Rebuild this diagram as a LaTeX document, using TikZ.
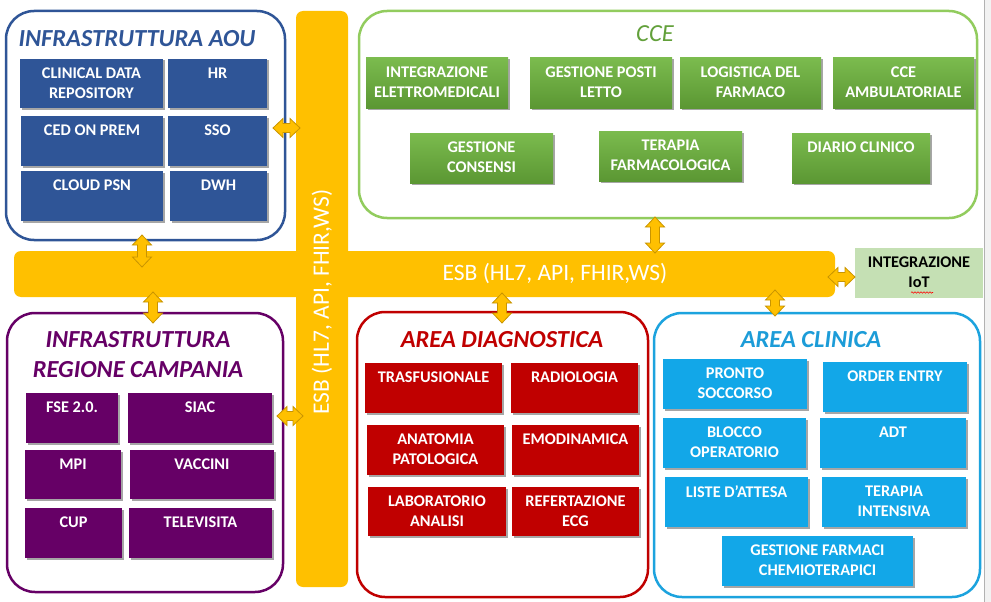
\documentclass[tikz,border=0pt]{standalone}
\usepackage{fontspec}
\setmainfont{Carlito}
\usetikzlibrary{calc,fit,shadows,decorations.pathmorphing}
\definecolor{gold}{HTML}{FFC000}
\definecolor{goldd}{HTML}{C89400}
\definecolor{aoublue}{HTML}{2F5597}
\definecolor{ccetitle}{HTML}{62A03A}
\definecolor{cceborder}{HTML}{92CC5E}
\definecolor{ccetop}{HTML}{7BBB4E}
\definecolor{ccebot}{HTML}{5B9733}
\definecolor{purp}{HTML}{660066}
\definecolor{dred}{HTML}{C00000}
\definecolor{cyanborder}{HTML}{1CA3DE}
\definecolor{cyanbox}{HTML}{12A7E8}
\definecolor{cyantitle}{HTML}{1C9CD8}
\definecolor{iotg}{HTML}{C5E0B4}

\tikzset{
  panel/.style={draw, line width=2.5pt, rounded corners=28pt, fill=white, inner sep=0pt},
  bx/.style={inner sep=0pt, drop shadow={shadow xshift=1.5pt, shadow yshift=-1.5pt, opacity=.35, fill=black}},
  btxt/.style={font=\bfseries\fontsize{16.3}{20}\selectfont, text=white, align=center, inner sep=0pt, anchor=north},
  ptitle/.style={font=\bfseries\itshape\fontsize{24.5}{30}\selectfont, align=center, inner sep=0pt},
  bus/.style={fill=gold, rounded corners=7pt, inner sep=0pt},
  esbtxt/.style={font=\fontsize{23.5}{28}\selectfont, text=white, inner sep=0pt},
  dblarr/.style={fill=gold, draw=goldd, line width=0.8pt, line join=miter},
  greenbox/.style={top color=ccetop, bottom color=ccebot}
}

\newcommand\ibox[7]{%
  \node[fit={(#3,#4) (#5,#6)}, bx, #1] (#2) {};
  \node[btxt] (#2t) at ([yshift=-9pt]#2.north) {#7};}

\newcommand\mydblarrow[2]{%
  \coordinate (da1) at ($(#1)!10pt!(#2)$);
  \coordinate (da2) at ($(#2)!10pt!(#1)$);
  \draw[dblarr] (#1) -- ($(da1)!9.5pt!90:(#2)$) -- ($(da1)!4.5pt!90:(#2)$)
    -- ($(da2)!4.5pt!-90:(#1)$) -- ($(da2)!9.5pt!-90:(#1)$) -- (#2)
    -- ($(da2)!9.5pt!90:(#1)$) -- ($(da2)!4.5pt!90:(#1)$)
    -- ($(da1)!4.5pt!-90:(#2)$) -- ($(da1)!9.5pt!-90:(#2)$) -- cycle;}

\begin{document}
\begin{tikzpicture}[x=1pt,y=-1pt]
\useasboundingbox (0,0) rectangle (991,602);
\fill[white] (0,0) rectangle (991,602);
\fill[black!5] (984,0) rectangle (991,602);
\draw[black!30, line width=0.8pt] (984,0) -- (984,602);

% panels
\node[panel, draw=aoublue, fit={(6,11) (285,240)}] (aou) {};
\node[panel, draw=cceborder, fit={(359,11) (977,218)}] (cce) {};
\node[panel, draw=purp, fit={(7,313) (283,592)}] (reg) {};
\node[panel, draw=dred, fit={(357,312) (648,597)}] (diag) {};
\node[panel, draw=cyanborder, fit={(654,313) (980,597)}] (clin) {};

% titles
\node[ptitle, text=aoublue] (aoutitle) at (137,39) {INFRASTRUTTURA AOU};
\node[ptitle, text=purp] (regtitle) at (138,355) {INFRASTRUTTURA\\REGIONE CAMPANIA};
\node[ptitle, text=ccetitle, font=\itshape\fontsize{24.5}{30}\selectfont] (ccetitle) at (655,34) {CCE};
\node[ptitle, text=dred] (diagtitle) at (502,340) {AREA DIAGNOSTICA};
\node[ptitle, text=cyantitle] (clintitle) at (811,340) {AREA CLINICA};

% buses
\node[bus, fit={(296,11) (348,587)}] (vbus) {};
\node[bus, fit={(14,251) (835,297)}] (hbus) {};
\node[esbtxt] (hbust) at (555,274) {ESB (HL7, API, FHIR,WS)};
\node[esbtxt, rotate=90] (vbust) at (322,302) {ESB (HL7, API, FHIR,WS)};

% IoT
\node[fit={(855,248) (983,298)}, fill=iotg, inner sep=0pt] (iot) {};
\node[btxt, text=black] (iott) at ([yshift=-9pt]iot.north) {INTEGRAZIONE\\IoT};
\draw[red, line width=0.6pt, decorate, decoration={snake, amplitude=0.7pt, segment length=3pt}] (911,292.5) -- (933,292.5);

% AOU boxes
\ibox{fill=aoublue}{cdr}{20}{59}{163}{108}{CLINICAL DATA\\REPOSITORY}
\ibox{fill=aoublue}{hr}{168}{59}{267}{108}{HR}
\ibox{fill=aoublue}{ced}{21}{116}{163}{166}{CED ON PREM}
\ibox{fill=aoublue}{sso}{168}{116}{267}{166}{SSO}
\ibox{fill=aoublue}{cloud}{21}{171}{163}{221}{CLOUD PSN}
\ibox{fill=aoublue}{dwh}{170}{171}{267}{221}{DWH}

% CCE boxes
\ibox{greenbox}{intel}{366}{58}{508}{108}{INTEGRAZIONE\\ELETTROMEDICALI}
\ibox{greenbox}{gpl}{530}{58}{672}{108}{GESTIONE POSTI\\LETTO}
\ibox{greenbox}{logf}{680}{58}{821}{108}{LOGISTICA DEL\\FARMACO}
\ibox{greenbox}{amb}{833}{58}{974}{108}{CCE\\AMBULATORIALE}
\ibox{greenbox}{cons}{410}{133}{553}{183}{GESTIONE\\CONSENSI}
\ibox{greenbox}{terf}{599}{131}{742}{181}{TERAPIA\\FARMACOLOGICA}
\ibox{greenbox}{diario}{792}{133}{930}{183}{DIARIO CLINICO}

% Regione boxes
\ibox{fill=purp}{fse}{26}{393}{118}{443}{FSE 2.0.}
\ibox{fill=purp}{siac}{128}{393}{272}{443}{SIAC}
\ibox{fill=purp}{mpi}{25}{450}{121}{499}{MPI}
\ibox{fill=purp}{vacc}{130}{450}{274}{499}{VACCINI}
\ibox{fill=purp}{cup}{25}{508}{122}{558}{CUP}
\ibox{fill=purp}{tele}{129}{508}{272}{558}{TELEVISITA}

% Diagnostica boxes
\ibox{fill=dred}{tras}{365}{363}{502}{413}{TRASFUSIONALE}
\ibox{fill=dred}{rad}{511}{363}{638}{413}{RADIOLOGIA}
\ibox{fill=dred}{anat}{367}{425}{504}{475}{ANATOMIA\\PATOLOGICA}
\ibox{fill=dred}{emo}{512}{425}{639}{475}{EMODINAMICA}
\ibox{fill=dred}{lab}{368}{487}{506}{536}{LABORATORIO\\ANALISI}
\ibox{fill=dred}{ref}{512}{487}{639}{536}{REFERTAZIONE\\ECG}

% Clinica boxes
\ibox{fill=cyanbox}{ps}{663}{359}{807}{409}{PRONTO\\SOCCORSO}
\ibox{fill=cyanbox}{oe}{823}{362}{967}{412}{ORDER ENTRY}
\ibox{fill=cyanbox}{bo}{663}{418}{806}{468}{BLOCCO\\OPERATORIO}
\ibox{fill=cyanbox}{adt}{820}{418}{966}{468}{ADT}
\ibox{fill=cyanbox}{la}{665}{477}{808}{527}{LISTE D’ATTESA}
\ibox{fill=cyanbox}{ti}{822}{477}{966}{527}{TERAPIA\\INTENSIVA}
\ibox{fill=cyanbox}{gf}{722}{536}{913}{586}{GESTIONE FARMACI\\CHEMIOTERAPICI}

% arrow end points
\coordinate (a1s) at (142,235);
\coordinate (a1e) at (142,267);
\coordinate (a2s) at (153,292);
\coordinate (a2e) at (153,323);
\coordinate (a3s) at (273,128);
\coordinate (a3e) at (300,128);
\coordinate (a4s) at (277,416);
\coordinate (a4e) at (303,416);
\coordinate (a5s) at (655,217);
\coordinate (a5e) at (655,253);
\coordinate (a6s) at (502,293);
\coordinate (a6e) at (502,323);
\coordinate (a7s) at (775,290);
\coordinate (a7e) at (775,316);
\coordinate (a8s) at (828,277);
\coordinate (a8e) at (855,277);

\mydblarrow{a1s}{a1e}
\mydblarrow{a2s}{a2e}
\mydblarrow{a3s}{a3e}
\mydblarrow{a4s}{a4e}
\mydblarrow{a5s}{a5e}
\mydblarrow{a6s}{a6e}
\mydblarrow{a7s}{a7e}
\mydblarrow{a8s}{a8e}
\end{tikzpicture}
\end{document}
